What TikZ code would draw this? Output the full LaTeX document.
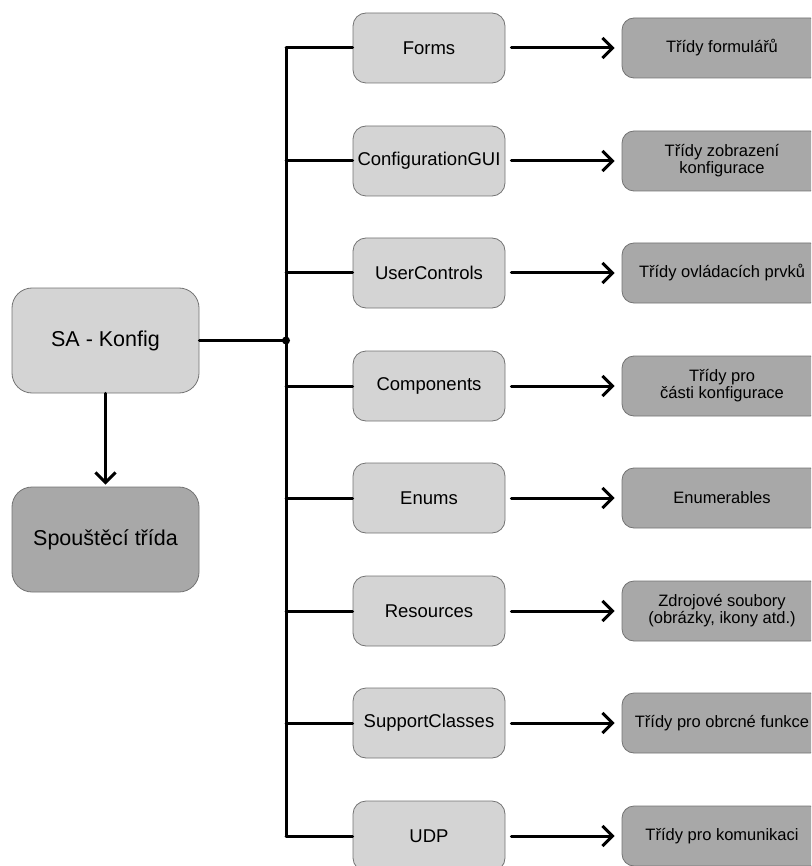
\documentclass[tikz,border=0pt]{standalone}
\usepackage{fontspec}
\setmainfont{Liberation Sans}
\usetikzlibrary{arrows.meta}

\begin{document}
\begin{tikzpicture}[x=1pt, y=-1pt, line cap=round, line join=round]
% Sketch of the SA - Konfig project layout, coordinates in pixels
\providecommand{\skLightFill}{black!17}
\providecommand{\skDarkFill}{black!34}
\providecommand{\skBoxBorder}{black!55}
\providecommand{\skLinkWidth}{3pt}
\tikzset{
  rootbox/.style={draw=\skBoxBorder, line width=0.8pt, rounded corners=20pt,
    minimum width=187pt, minimum height=105pt, inner sep=0pt,
    font=\fontsize{21.5}{24}\selectfont},
  folderbox/.style={draw=\skBoxBorder, line width=0.8pt, fill=\skLightFill, rounded corners=13pt,
    minimum width=152pt, minimum height=70pt, inner sep=0pt,
    font=\fontsize{18.5}{21}\selectfont},
  classbox/.style={draw=\skBoxBorder, line width=0.8pt, fill=\skDarkFill, rounded corners=12pt,
    minimum width=200pt, minimum height=60pt, inner sep=0pt, align=center,
    font=\fontsize{16.5}{17}\selectfont},
  link/.style={draw=black, line width=\skLinkWidth},
  linkarrow/.style={link, -{Straight Barb[length=10pt, width=20pt, line width=\skLinkWidth]}}
}
\useasboundingbox (0,0) rectangle (811,866);
\clip (0,0) rectangle (811,866);
% Root and start class
\node[rootbox, fill=\skLightFill] (konfig) at (105.5,340.5) {SA - Konfig};
\node[rootbox, fill=\skDarkFill] (spoustec) at (105.5,539.5) {Spouštěcí třída};
% Folders
\node[folderbox] (forms) at (429,48) {Forms};
\node[folderbox] (gui) at (429,161) {ConfigurationGUI};
\node[folderbox] (usercontrols) at (429,273) {UserControls};
\node[folderbox] (components) at (429,386) {Components};
\node[folderbox] (enums) at (429,498) {Enums};
\node[folderbox] (resources) at (429,611) {Resources};
\node[folderbox] (support) at (429,723) {SupportClasses};
\node[folderbox] (udp) at (429,836) {UDP};
% Class groups
\node[classbox] (formsCls) at (722,48) {Třídy formulářů};
\node[classbox] (guiCls) at (722,161) {Třídy zobrazení\\konfigurace};
\node[classbox] (usercontrolsCls) at (722,273) {Třídy ovládacích prvků};
\node[classbox] (componentsCls) at (722,386) {Třídy pro\\části konfigurace};
\node[classbox] (enumsCls) at (722,498) {Enumerables};
\node[classbox] (resourcesCls) at (722,611) {Zdrojové soubory\\(obrázky, ikony atd.)};
\node[classbox] (supportCls) at (722,723) {Třídy pro obrcné funkce};
\node[classbox] (udpCls) at (722,836) {Třídy pro komunikaci};
% Bus
\coordinate (busTop) at (286,48);
\coordinate (busBottom) at (286,836);
\coordinate (junction) at (286,340.5);
\draw[link] (busTop) -- (busBottom);
\draw[link] (konfig.east) -- (junction);
\fill (junction) circle[radius=4pt];
\draw[linkarrow, shorten >=2pt] (konfig.south) -- (spoustec.north);
% Branches
\draw[link] (busTop) -- (forms.west);
\draw[link] (gui.west -| busTop) -- (gui.west);
\draw[link] (usercontrols.west -| busTop) -- (usercontrols.west);
\draw[link] (components.west -| busTop) -- (components.west);
\draw[link] (enums.west -| busTop) -- (enums.west);
\draw[link] (resources.west -| busTop) -- (resources.west);
\draw[link] (support.west -| busTop) -- (support.west);
\draw[link] (busBottom) -- (udp.west);
% Arrows to class groups
\draw[linkarrow, shorten <=6pt, shorten >=7pt] (forms) -- (formsCls);
\draw[linkarrow, shorten <=6pt, shorten >=7pt] (gui) -- (guiCls);
\draw[linkarrow, shorten <=6pt, shorten >=7pt] (usercontrols) -- (usercontrolsCls);
\draw[linkarrow, shorten <=6pt, shorten >=7pt] (components) -- (componentsCls);
\draw[linkarrow, shorten <=6pt, shorten >=7pt] (enums) -- (enumsCls);
\draw[linkarrow, shorten <=6pt, shorten >=7pt] (resources) -- (resourcesCls);
\draw[linkarrow, shorten <=6pt, shorten >=7pt] (support) -- (supportCls);
\draw[linkarrow, shorten <=6pt, shorten >=7pt] (udp) -- (udpCls);
\end{tikzpicture}
\end{document}
